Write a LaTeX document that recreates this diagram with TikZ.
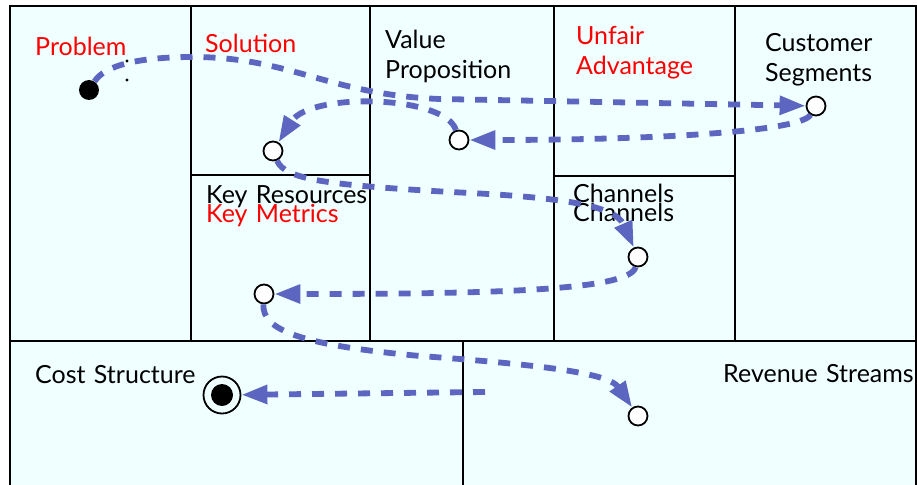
\documentclass[tikz,border=0pt]{standalone}
\usepackage{fontspec}
\setmainfont{Lato}
\usetikzlibrary{arrows.meta}
\definecolor{canvasfill}{RGB}{240,255,255}
\definecolor{flowblue}{RGB}{92,102,192}
\begin{document}
\begin{tikzpicture}[x=1pt,y=-1pt,
  box/.style={draw=black,line width=2pt,fill=canvasfill},
  lbl/.style={anchor=base west,inner sep=0pt,text width=220pt,align=left,
    font=\fontsize{25}{30}\selectfont},
  hot/.style={lbl,text=red},
  waypt/.style={circle,draw=black,line width=1.8pt,fill=white,minimum size=19pt,inner sep=0pt},
  startdot/.style={circle,fill=black,minimum size=20pt,inner sep=0pt},
  enddot/.style={circle,draw=black,line width=1.8pt,minimum size=37pt,inner sep=0pt},
  flow/.style={draw=flowblue,line width=5.8pt,dash pattern=on 12pt off 11pt,
    -{Triangle[length=26pt,width=18pt]}}]
 \useasboundingbox (0,0) rectangle (917,484);
 \draw[box] (10,6) rectangle (191,341);
 \draw[box] (191,6) rectangle (370,175);
 \draw[box] (191,175) rectangle (370,341);
 \draw[box] (370,6) rectangle (554,341);
 \draw[box] (554,6) rectangle (735,176);
 \draw[box] (554,176) rectangle (735,341);
 \draw[box] (735,6) rectangle (916,341);
 \draw[box] (10,341) rectangle (463,490);
 \draw[box] (463,341) rectangle (916,490);
 \node[hot] (problem) at (35,56) {Problem};
 \node[hot] (solution) at (205,53) {Solution};
 \node[lbl] (value) at (385,49) {Value\\Proposition};
 \node[hot] (unfair) at (576,45) {Unfair\\Advantage};
 \node[lbl] (segments) at (765,52) {Customer\\Segments};
 \node[lbl] (resources) at (206,203) {Key Resources};
 \node[hot] (metrics) at (206,222) {Key Metrics};
 \node[lbl] (channels) at (573,202) {Channels};
 \node[lbl] (channelstoo) at (573,221) {Channels};
 \node[lbl] (cost) at (35,383) {Cost Structure};
 \node[lbl] (revenue) at (723,382) {Revenue Streams};
 \fill (127,61) circle (1.6);
 \fill (127,80) circle (1.6);
 \node[startdot] (p) at (89,90) {};
 \node[waypt] (cs) at (816,106) {};
 \node[waypt] (vp) at (459,140) {};
 \node[waypt] (so) at (273,151) {};
 \node[waypt] (ch) at (638,257) {};
 \node[waypt] (km) at (264,294) {};
 \node[waypt] (rs) at (638,416) {};
 \node[enddot] (ce) at (222,395) {};
 \fill (ce) circle (11);
 \coordinate (rsout) at (485,392);
 \draw[flow] (p) .. controls (105,65) and (140,57) .. (193,57)
   .. controls (290,57) and (330,95) .. (440,99) -- (cs);
 \draw[flow] (cs) .. controls (800,132) and (650,140) .. (vp);
 \draw[flow] (vp) .. controls (445,95) and (310,92) .. (so);
 \draw[flow] (so) .. controls (285,180) and (330,185) .. (450,192)
   .. controls (560,197) and (615,205) .. (ch);
 \draw[flow] (ch) .. controls (630,290) and (500,294) .. (km);
 \draw[flow] (km) .. controls (262,330) and (300,345) .. (420,356)
   .. controls (560,366) and (610,375) .. (rs);
 \draw[flow] (rsout) -- (ce);
\end{tikzpicture}
\end{document}
